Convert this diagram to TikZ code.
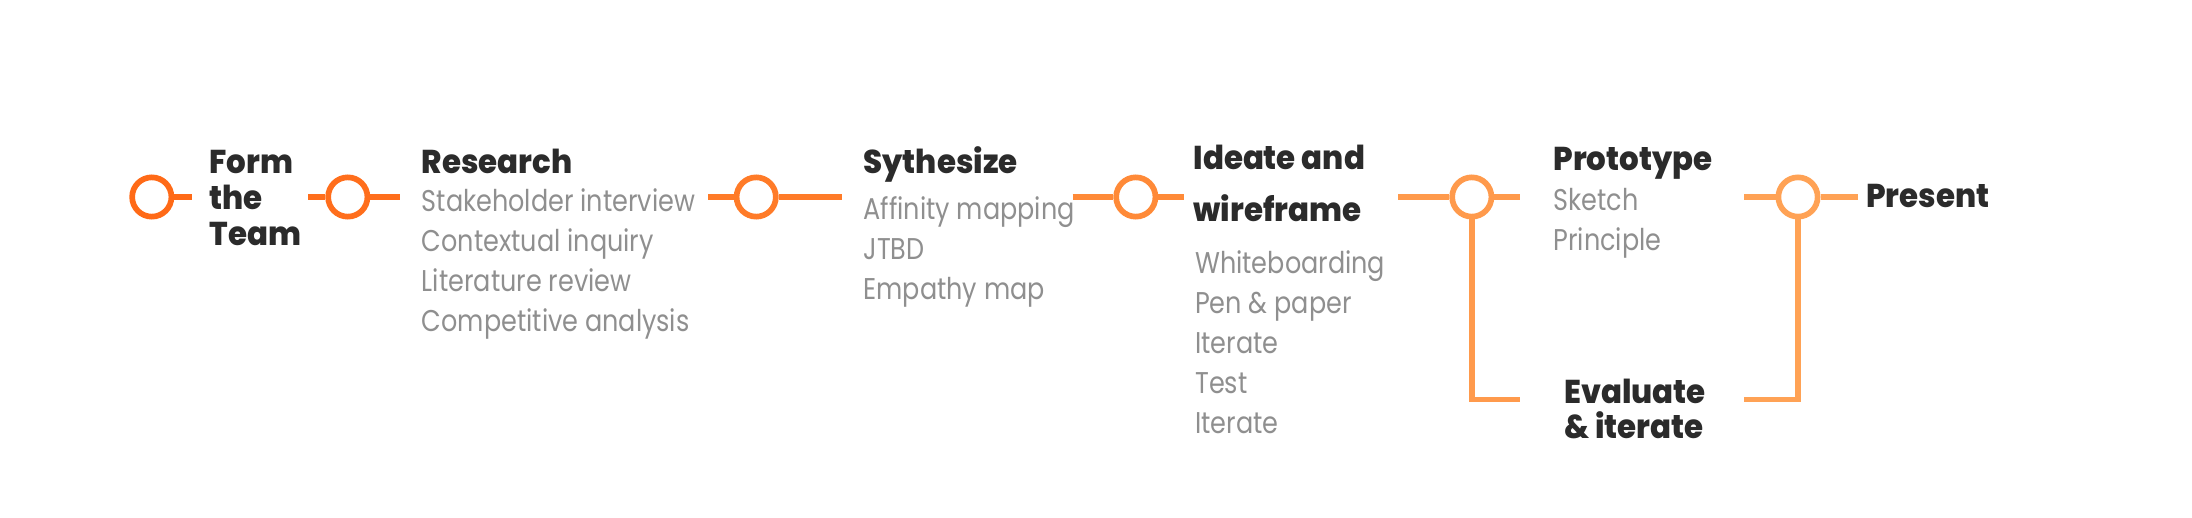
\documentclass[tikz,border=0pt]{standalone}
\usepackage{fontspec}
\newfontfamily\headfont{Poppins ExtraBold}[FakeStretch=0.935]
\newfontfamily\itemfont{Poppins}[FakeStretch=0.85]
\definecolor{o1}{HTML}{FF6A17}
\definecolor{o2}{HTML}{FF6E1C}
\definecolor{o3}{HTML}{FF7B28}
\definecolor{o4}{HTML}{FF8A38}
\definecolor{o5}{HTML}{FF9A4C}
\definecolor{o6}{HTML}{FFA255}
\definecolor{ink}{HTML}{2B2B2B}
\definecolor{mute}{HTML}{8F8F8F}
\begin{document}
\begin{tikzpicture}[x=1pt,y=-1pt,
  ring/.style={circle, draw, line width=5.7pt, minimum size=39.3pt, inner sep=0pt, fill=white},
  stub/.style={line width=5.5pt},
  head/.style={anchor=base west, inner sep=0pt, text=ink, font=\headfont\fontsize{33}{36}\selectfont},
  item/.style={anchor=base west, inner sep=0pt, text=mute, font=\itemfont\fontsize{30}{36}\selectfont}]
\useasboundingbox (0,0) rectangle (2192,518);
% circles
\node[ring, draw=o1] (c1) at (151.8,197) {};
\node[ring, draw=o2] (c2) at (347.8,197) {};
\node[ring, draw=o3] (c3) at (756.2,197) {};
\node[ring, draw=o4] (c4) at (1135.8,197) {};
\node[ring, draw=o5] (c5) at (1471.8,197) {};
\node[ring, draw=o6] (c6) at (1798,197) {};
% stub end points
\coordinate (s1r) at (191.7,197);
\coordinate (s2l) at (308.3,197);
\coordinate (s2r) at (400,197);
\coordinate (s3l) at (708.3,197);
\coordinate (s3r) at (841.7,197);
\coordinate (s4l) at (1072.7,197);
\coordinate (s4r) at (1184,197);
\coordinate (s5l) at (1398.3,197);
\coordinate (s5r) at (1520,197);
\coordinate (s6l) at (1744,197);
\coordinate (s6r) at (1857.7,197);
\coordinate (e5) at (1520,399.3);
\coordinate (e6) at (1744,399.3);
% stubs
\draw[stub, o1] (c1) -- (s1r);
\draw[stub, o2] (s2l) -- (c2);
\draw[stub, o2] (c2) -- (s2r);
\draw[stub, o3] (s3l) -- (c3);
\draw[stub, o3] (c3) -- (s3r);
\draw[stub, o4] (s4l) -- (c4);
\draw[stub, o4] (c4) -- (s4r);
\draw[stub, o5] (s5l) -- (c5);
\draw[stub, o5] (c5) -- (s5r);
\draw[stub, o6] (s6l) -- (c6);
\draw[stub, o6] (c6) -- (s6r);
\draw[stub, o5] (c5.south) |- (e5);
\draw[stub, o6] (c6.south) |- (e6);
% headings
\node[head] (h1a) at (209.3,174) {Form};
\node[head] (h1b) at (209.3,210) {the};
\node[head] (h1c) at (209.3,246) {Team};
\node[head] (h2) at (421.7,174) {Research};
\node[head] (h3) at (863.3,174) {Sythesize};
\node[head] (h4a) at (1193.3,170) {Ideate and};
\node[head] (h4b) at (1193.3,221.7) {wireframe};
\node[head] (h5) at (1553.3,170.7) {Prototype};
\node[head] (h6) at (1866,207.3) {Present};
\node[head] (h7a) at (1564,403.3) {Evaluate};
\node[head] (h7b) at (1564,438.3) {\& iterate};
% items
\node[item] (i2a) at (421.7,211.7) {Stakeholder interview};
\node[item] (i2b) at (421.7,251.7) {Contextual inquiry};
\node[item] (i2c) at (421.7,292) {Literature review};
\node[item] (i2d) at (421.7,331.7) {Competitive analysis};
\node[item] (i3a) at (863.3,219.3) {Affinity mapping};
\node[item] (i3b) at (863.3,259.3) {JTBD};
\node[item] (i3c) at (863.3,300) {Empathy map};
\node[item] (i4a) at (1195,274) {Whiteboarding};
\node[item] (i4b) at (1195,313.3) {Pen \& paper};
\node[item] (i4c) at (1195,353.3) {Iterate};
\node[item] (i4d) at (1195,393.3) {Test};
\node[item] (i4e) at (1195,433.3) {Iterate};
\node[item] (i5a) at (1553.3,211) {Sketch};
\node[item] (i5b) at (1553.3,250.7) {Principle};
\end{tikzpicture}
\end{document}
